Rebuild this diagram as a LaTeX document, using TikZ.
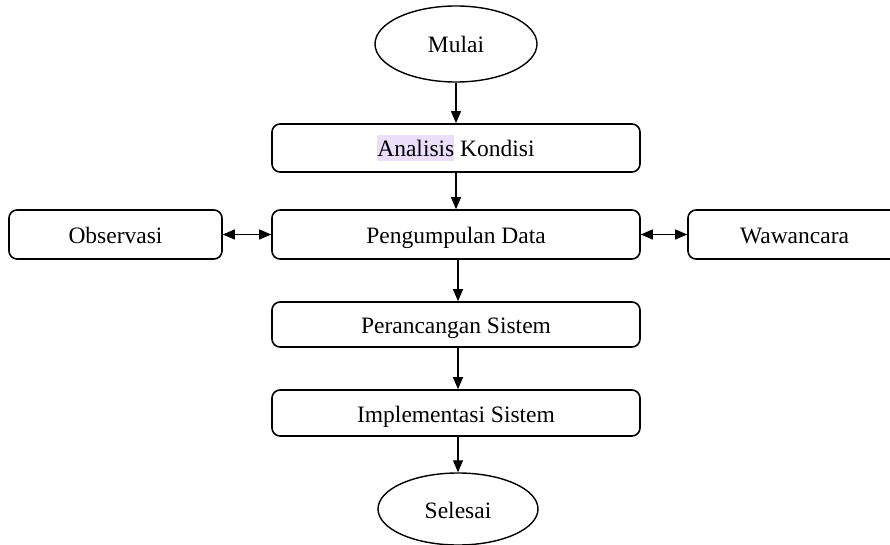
\documentclass[tikz,border=0pt]{standalone}
\usepackage{fontspec}
\setmainfont{Liberation Serif}
\usetikzlibrary{shapes.geometric,arrows.meta}
\definecolor{hilite}{RGB}{234,222,250}

\begin{document}
\begin{tikzpicture}[x=1pt,y=1pt,font=\fontsize{23.5}{28}\selectfont]
\tikzstyle{proses}=[rectangle,rounded corners=8pt,draw,line width=1.6pt,minimum width=368pt,minimum height=48pt,inner sep=0pt,text height=22pt,text depth=4pt]
\tikzstyle{samping}=[proses,minimum width=213pt,minimum height=49pt]
\tikzstyle{terminal}=[ellipse,draw,line width=1.4pt,minimum width=162pt,minimum height=76pt,inner sep=0pt,text height=22pt,text depth=4pt]
\tikzstyle{panah}=[-{Triangle[length=12pt,width=10pt]},line width=1.1pt]
\tikzstyle{panahdua}=[{Triangle[length=12pt,width=10pt]}-{Triangle[length=12pt,width=10pt]},line width=1.1pt]
\useasboundingbox (0,0) rectangle (890,544);
\node [terminal] (mulai) at (456,500) {Mulai};
\node [proses] (analisis) at (456,396) {{\fboxsep=0pt\colorbox{hilite}{\rule[-4pt]{0pt}{26pt}Analisis}} Kondisi};
\node [proses,minimum height=49pt] (pengumpulan) at (456,309.5) {Pengumpulan Data};
\node [samping] (observasi) at (115.5,309.5) {Observasi};
\node [samping] (wawancara) at (794.5,309.5) {Wawancara};
\node [proses,minimum height=45pt] (perancangan) at (456,219.5) {Perancangan Sistem};
\node [proses,minimum height=46pt] (implementasi) at (456,131) {Implementasi Sistem};
\node [terminal,minimum width=160pt,minimum height=72pt] (selesai) at (458,35) {Selesai};
\draw [panah] (mulai) -- (analisis);
\draw [panah] (analisis) -- (pengumpulan);
\draw [panahdua] (observasi) -- (pengumpulan);
\draw [panahdua] (pengumpulan) -- (wawancara);
\draw [panah] ([xshift=2pt]pengumpulan.south) -- ([xshift=2pt]perancangan.north);
\draw [panah] ([xshift=2pt]perancangan.south) -- ([xshift=2pt]implementasi.north);
\draw [panah] ([xshift=2pt]implementasi.south) -- (selesai);
\end{tikzpicture}
\end{document}
